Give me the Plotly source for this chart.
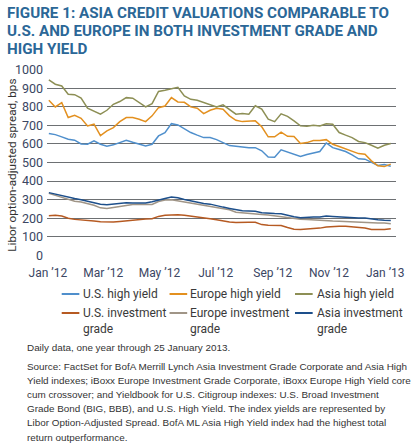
import pandas as pd
import plotly.graph_objects as go

# weekly readings, Jan 2012 - Jan 2013 (bps)
dates = pd.date_range("2012-01-02", periods=54, freq="7D")

us_hy = [656, 650, 638, 625, 620, 600, 598, 616, 598, 588, 595, 607, 620, 609, 598, 589, 598, 643,
         661, 709, 702, 683, 661, 647, 634, 634, 623, 607, 591, 588, 584, 580, 580, 563, 530, 528,
         568, 555, 546, 532, 543, 550, 559, 605, 580, 570, 559, 541, 520, 518, 500, 484, 489, 480]
eu_hy = [835, 799, 822, 742, 754, 738, 697, 706, 645, 670, 688, 720, 742, 742, 733, 720, 751, 795,
         804, 849, 826, 824, 799, 792, 763, 781, 792, 787, 751, 727, 720, 724, 724, 692, 638, 638,
         663, 641, 640, 602, 607, 618, 618, 623, 598, 586, 572, 559, 548, 545, 509, 482, 478, 491]
asia_hy = [944, 921, 912, 867, 865, 846, 792, 774, 760, 781, 813, 828, 849, 846, 822, 799, 817, 882,
           889, 899, 905, 858, 840, 835, 822, 810, 799, 810, 787, 760, 763, 760, 805, 787, 733, 720,
           762, 748, 724, 697, 695, 701, 697, 708, 706, 661, 647, 634, 613, 607, 593, 577, 593, 602]
us_ig = [214, 216, 212, 200, 194, 192, 189, 185, 181, 180, 180, 183, 187, 191, 193, 196, 198, 210,
         216, 218, 219, 216, 212, 208, 203, 198, 192, 184, 180, 177, 176, 178, 178, 166, 163, 162,
         161, 150, 141, 140, 141, 144, 147, 153, 156, 157, 157, 155, 152, 148, 140, 139, 139, 143]
eu_ig = [334, 324, 310, 300, 292, 288, 280, 270, 256, 252, 258, 264, 270, 274, 276, 276, 274, 290,
         298, 300, 294, 284, 280, 276, 270, 264, 257, 252, 246, 232, 228, 224, 222, 220, 218, 213,
         208, 204, 198, 195, 193, 190, 188, 187, 185, 184, 182, 179, 178, 177, 176, 175, 174, 170]
asia_ig = [338, 330, 320, 311, 306, 300, 292, 287, 275, 273, 277, 281, 283, 282, 282, 282, 289, 299,
           306, 314, 310, 301, 293, 287, 280, 276, 270, 260, 253, 245, 240, 239, 238, 230, 226, 225,
           224, 215, 208, 203, 206, 207, 207, 212, 210, 207, 204, 202, 202, 201, 195, 192, 189, 188]

names = ["U.S. high yield", "Europe high yield", "Asia high yield",
         "U.S. investment<br>grade", "Europe investment<br>grade", "Asia investment<br>grade"]
values = [us_hy, eu_hy, asia_hy, us_ig, eu_ig, asia_ig]
colors = ["#4f8fcc", "#e3901f", "#8d8f55", "#b65a22", "#a09587", "#1d4f8b"]

tick_dates = ["2012-01-01", "2012-03-01", "2012-05-01", "2012-07-01",
              "2012-09-01", "2012-11-01", "2013-01-01"]
tick_text = ["Jan \u201912", "Mar \u201912", "May \u201912", "Jul \u201912",
             "Sep \u201912", "Nov \u201912", "Jan \u201913"]

title_lines = ["FIGURE 1: ASIA CREDIT VALUATIONS COMPARABLE TO",
               "U.S. AND EUROPE IN BOTH INVESTMENT GRADE AND",
               "HIGH YIELD"]
note = "Daily data, one year through 25 January 2013."
source_lines = [
    "Source: FactSet for BofA Merrill Lynch Asia Investment Grade Corporate and Asia High",
    "Yield indexes; iBoxx Europe Investment Grade Corporate, iBoxx Europe High Yield core",
    "cum crossover; and Yieldbook for U.S. Citigroup indexes: U.S. Broad Investment",
    "Grade Bond (BIG, BBB), and U.S. High Yield. The index yields are represented by",
    "Libor Option-Adjusted Spread. BofA ML Asia High Yield index had the highest total",
    "return outperformance.",
]

W, H = 416, 443
L, R, T, B = 47, 403, 69, 256
SMALL = dict(family="Liberation Sans", size=9.9, color="#333333")


def px(x):
    return (x - L) / (R - L)


def py(y):
    return (B - y) / (B - T)


def text_at(x, y, text, font, **kw):
    fig.add_annotation(xref="paper", yref="paper", x=px(x), y=py(y), text=text,
                       xanchor=kw.pop("xanchor", "left"), yanchor="middle",
                       showarrow=False, align="left", font=font, **kw)


fig = go.Figure()
for name, vals, col in zip(names, values, colors):
    fig.add_trace(go.Scatter(x=dates, y=vals, mode="lines", name=name,
                             line=dict(color=col, width=1.5), showlegend=False))

# title, one line at a time
for i, line in enumerate(title_lines):
    text_at(4, 13.5 + 17.8 * i, "<b>" + line + "</b>",
            dict(family="Roboto", size=15.2, color="#2b6797"))

# hand-made legend: 3 columns x 2 rows
legend_x = [62, 172, 300]
legend_tx = [82, 191, 320]
legend_y = [294, 313]
for i, (name, col) in enumerate(zip(names, colors)):
    c, r = i % 3, i // 3
    yy = legend_y[r]
    fig.add_shape(type="line", xref="paper", yref="paper",
                  x0=px(legend_x[c]), x1=px(legend_x[c] + 18), y0=py(yy), y1=py(yy),
                  line=dict(color=col, width=2))
    text_at(legend_tx[c], yy if r == 0 else yy + 8, name,
            dict(family="Roboto", size=12, color="#3a3a3a"))

text_at(11, 165, "Libor option-adjusted spread, bps",
        dict(family="Roboto", size=11.7, color="#333333"), textangle=-90, xanchor="center")

text_at(25, 347, note, SMALL)
for i, line in enumerate(source_lines):
    text_at(25, 366 + 14.2 * i, line, SMALL)

fig.update_layout(
    width=W, height=H,
    margin=dict(l=L, r=W - R, t=T, b=H - B, pad=0),
    paper_bgcolor="white", plot_bgcolor="white",
    xaxis=dict(type="date", range=["2011-12-31", "2013-01-12 16:00"],
               tickvals=tick_dates, ticktext=tick_text, showgrid=False,
               zeroline=False, showline=False, ticks="", ticklabelstandoff=8,
               tickfont=dict(family="Roboto", size=12, color="#3b4663")),
    yaxis=dict(range=[-3, 1003], tickvals=list(range(0, 1001, 100)),
               showgrid=True, gridcolor="#6d7073", gridwidth=1.2,
               zeroline=False, showline=False, ticks="", ticklabelstandoff=3,
               tickfont=dict(family="Roboto", size=12.5, color="#3b4663")),
)

fig.write_html("out.html", config={"displayModeBar": False},
               post_script="document.body.style.margin='0px';")
